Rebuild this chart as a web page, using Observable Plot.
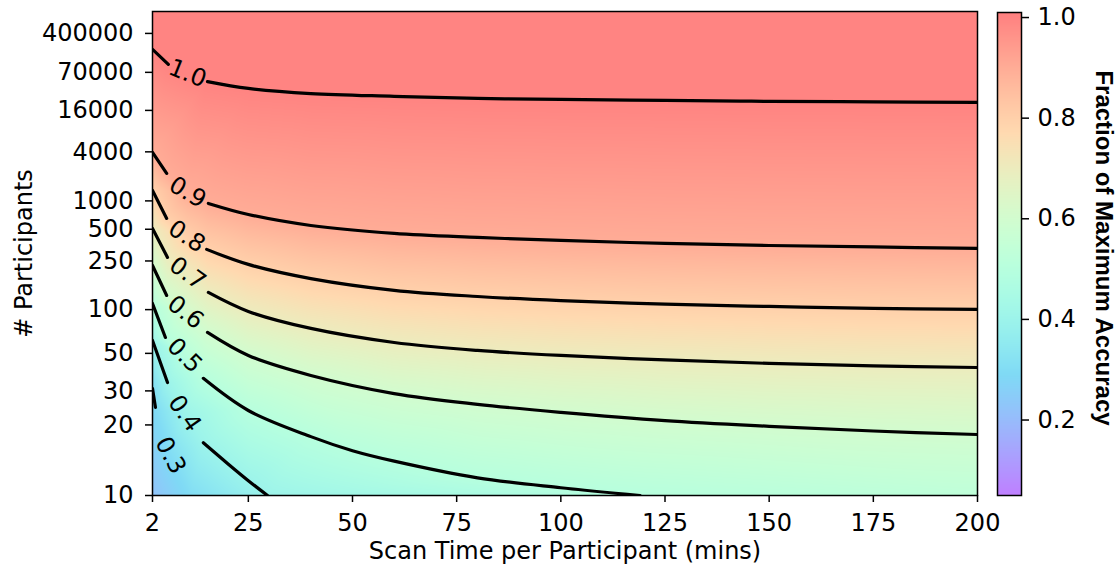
<!DOCTYPE html>
<html>
<head>
<meta charset="utf-8">
<script src="https://cdn.jsdelivr.net/npm/d3@7"></script>
<script src="https://cdn.jsdelivr.net/npm/@observablehq/plot@0.6"></script>
<style>
  body { margin: 0; background: #fff; }
  #chart { position: relative; width: 1118px; height: 571px; }
  #chart svg { position: absolute; top: 0; }
</style>
</head>
<body>
<div id="chart"></div>
<script>
// ---- data -------------------------------------------------------------
const scanTicks = [2, 25, 50, 75, 100, 125, 150, 175, 200];
const participantTicks = [10, 20, 30, 50, 100, 250, 500, 1000, 4000, 16000, 70000, 400000];
const accuracyTicks = [0.2, 0.4, 0.6, 0.8, 1.0];
const participantRange = [10, 1200000];
const scanRange = [2, 200];

const contourLevels = [1.0, 0.9, 0.8, 0.7, 0.6, 0.5, 0.4, 0.3];

// [scan time (mins), participants] along each contour; "Head" runs up to the inline label, "Tail" after it
const level100Head = [[2, 190000], [5.8, 98000]];
const level100Tail = [[15.2, 48000], [25, 36600], [40, 30000], [60, 27000], [80, 24900], [100, 24000], [125, 23100], [150, 22300], [175, 21900], [200, 21500]];
const level090Head = [[2, 3930], [5.4, 2106]];
const level090Tail = [[15.4, 937], [25, 711], [40, 546], [60, 454], [80, 415], [100, 388], [125, 363], [150, 347], [175, 336], [200, 326]];
const level080Head = [[2, 1316], [5.4, 646]];
const level080Tail = [[15, 319], [25, 233], [40, 176], [60, 141], [80, 126], [100, 117], [125, 110], [150, 105.6], [175, 102], [200, 100.3]];
const level070Head = [[2, 510], [5.6, 269]];
const level070Tail = [[15.4, 135.6], [25, 96.9], [40, 73.2], [60, 58.8], [80, 52.2], [100, 48.5], [125, 45.5], [150, 43.3], [175, 41.8], [200, 40.9]];
const level060Head = [[2, 228], [5.4, 128.4]];
const level060Tail = [[15.2, 68.7], [25, 48.5], [40, 36.7], [60, 29.0], [80, 25.4], [100, 23.1], [125, 21.0], [150, 19.7], [175, 18.7], [200, 18.0]];
const level050Head = [[2, 111.3], [5.1, 63.5]];
const level050Tail = [[14.2, 35.3], [25, 23.6], [40, 17.6], [50, 15.2], [60, 13.7], [80, 11.7], [100, 10.7], [119, 10]];
const level040Head = [[2, 60.6], [5.6, 33.4]];
const level040Tail = [[14.2, 16.5], [20, 13.4], [25, 11.4], [29.6, 10]];
const level030Head = [[2, 30.9], [2.7, 24.5]];

// inline contour label positions
const labelTime = [10.4, 10.4, 10.2, 10.4, 9.9, 9.7, 9.7, 6.3];
const labelParticipants = [67000, 1250, 424, 194.5, 95.3, 48.5, 22.8, 14.5];

// field values along the top and bottom edges of the grid
const ceilingTime = [2, 100, 200];
const ceilingValue = [1.0, 1.0, 1.0];
const floorTime = [2, 11, 200];
const floorValue = [0.22, 0.3, 0.53];

// ---- helpers ----------------------------------------------------------
// participants are plotted on a log-log axis
const loglog = n => Math.log(Math.log10(n));
const unloglog = v => Math.pow(10, Math.exp(v));

// matplotlib-style "rainbow" at half opacity over white
function pastelRainbow(t) {
  const r = Math.abs(2 * t - 0.5);
  const g = Math.sin(Math.PI * t);
  const b = Math.cos(Math.PI * t / 2);
  const mix = c => Math.round(255 * (0.5 + 0.5 * Math.max(0, Math.min(1, c))));
  return `rgb(${mix(r)},${mix(g)},${mix(b)})`;
}

const heads = [level100Head, level090Head, level080Head, level070Head, level060Head, level050Head, level040Head, level030Head];
const tails = [level100Tail, level090Tail, level080Tail, level070Tail, level060Tail, level050Tail, level040Tail, null];

const lineRows = [];
contourLevels.forEach((level, i) => {
  [heads[i], tails[i]].forEach((seg, j) => {
    if (!seg) return;
    seg.forEach(([t, n]) => lineRows.push({t, n, v: level, seg: `${i}-${j}`}));
  });
});

const labelRows = contourLevels.map((level, i) => ({t: labelTime[i], n: labelParticipants[i], v: level, i}));

const fieldRows = [
  ...lineRows,
  ...labelRows,
  ...ceilingTime.map((t, i) => ({t, n: participantRange[1], v: ceilingValue[i]})),
  ...floorTime.map((t, i) => ({t, n: participantRange[0], v: floorValue[i]}))
];

const font = "'DejaVu Sans', sans-serif";
const colorScale = {type: "linear", domain: [0.05, 1.01], clamp: true, interpolate: pastelRainbow};
const yDomain = participantRange.map(loglog);
const labelRotation = [22, 30, 33, 36, 38, 45, 55, 62];

// ---- main panel -------------------------------------------------------
const main = Plot.plot({
  width: 990,
  height: 571,
  marginLeft: 152,
  marginRight: 13,
  marginTop: 11,
  marginBottom: 76,
  style: {fontFamily: font, fontSize: "24px", color: "black", background: "white", overflow: "visible"},
  x: {domain: scanRange},
  y: {domain: yDomain},
  color: colorScale,
  marks: [
    Plot.raster(fieldRows, {
      x: "t", y: d => loglog(d.n), fill: "v",
      interpolate: "barycentric",
      x1: scanRange[0], x2: scanRange[1], y1: yDomain[0], y2: yDomain[1]
    }),
    Plot.line(lineRows, {
      x: "t", y: d => loglog(d.n), z: "seg",
      stroke: "black", strokeWidth: 3.2, curve: "catmull-rom", clip: "frame"
    }),
    Plot.text(labelRows, {
      x: "t", y: d => loglog(d.n), text: d => d.v.toFixed(1),
      rotate: d => labelRotation[d.i], fontSize: 24, fill: "black"
    }),
    Plot.frame({stroke: "black", strokeWidth: 1.5}),
    Plot.axisX({ticks: scanTicks, tickSize: 7, tickPadding: 11, strokeWidth: 1.5, label: null}),
    Plot.axisY({
      ticks: participantTicks.map(loglog),
      tickFormat: v => String(Math.round(unloglog(v))),
      tickSize: 7, tickPadding: 12, strokeWidth: 1.5, label: null
    }),
    Plot.text(["Scan Time per Participant (mins)"], {
      frameAnchor: "bottom", textAnchor: "middle", lineAnchor: "middle", dy: 56
    }),
    Plot.text(["# Participants"], {
      frameAnchor: "left", textAnchor: "middle", lineAnchor: "middle", rotate: -90, dx: -128
    })
  ]
});
main.style.left = "0px";

// ---- colorbar ---------------------------------------------------------
const bar = Plot.plot({
  width: 128,
  height: 571,
  marginLeft: 7,
  marginRight: 97,
  marginTop: 12,
  marginBottom: 76,
  style: {fontFamily: font, fontSize: "24px", color: "black", background: "transparent", overflow: "visible"},
  x: {domain: [0, 1], axis: null},
  y: {domain: colorScale.domain},
  color: colorScale,
  marks: [
    Plot.raster({fill: (x, y) => y, x1: 0, x2: 1, y1: colorScale.domain[0], y2: colorScale.domain[1]}),
    Plot.frame({stroke: "black", strokeWidth: 1.5}),
    Plot.axisY({
      anchor: "right", ticks: accuracyTicks, tickFormat: d3.format(".1f"),
      tickSize: 7, tickPadding: 9, strokeWidth: 1.5, label: null
    }),
    Plot.text(["Fraction of Maximum Accuracy"], {
      frameAnchor: "right", textAnchor: "middle", lineAnchor: "middle",
      rotate: 90, dx: 82, dy: -6,
      fontFamily: "'Liberation Sans', Arial, sans-serif", fontWeight: "bold", fontSize: 24
    })
  ]
});
bar.style.left = "990px";

document.getElementById("chart").append(main, bar);
</script>
</body>
</html>
